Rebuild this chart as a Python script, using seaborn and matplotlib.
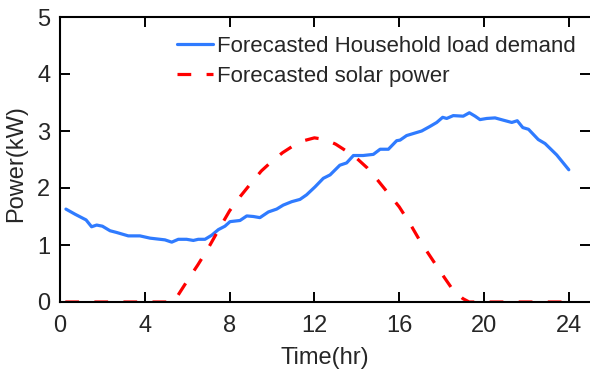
import matplotlib
matplotlib.use("Agg")
import matplotlib.pyplot as plt
import seaborn as sns
import pandas as pd

# Forecasted household load demand (kW)
load_time = [0.28, 0.71, 1.23, 1.49, 1.73, 2.0, 2.36, 2.67, 3.22, 3.77, 4.25, 4.72, 4.95,
             5.27, 5.58, 5.97, 6.29, 6.52, 6.84, 7.15, 7.47, 7.78, 8.02, 8.49, 8.81, 9.12,
             9.43, 9.83, 10.22, 10.53, 10.93, 11.32, 11.63, 12.03, 12.42, 12.74, 13.2,
             13.52, 13.84, 14.3, 14.78, 15.1, 15.49, 15.88, 16.04, 16.35, 17.06, 17.45,
             17.77, 18.05, 18.24, 18.55, 19.02, 19.31, 19.58, 19.81, 20.13, 20.52, 20.91,
             21.31, 21.57, 21.83, 22.1, 22.56, 22.88, 23.43, 24.0]
load_kw = [1.63, 1.54, 1.44, 1.32, 1.35, 1.33, 1.25, 1.22, 1.16, 1.16, 1.12, 1.10, 1.09,
           1.05, 1.10, 1.10, 1.08, 1.10, 1.10, 1.17, 1.27, 1.33, 1.41, 1.43, 1.51, 1.50,
           1.48, 1.58, 1.63, 1.70, 1.76, 1.80, 1.88, 2.02, 2.17, 2.23, 2.40,
           2.44, 2.57, 2.57, 2.59, 2.68, 2.68, 2.83, 2.84, 2.92, 3.00, 3.08,
           3.15, 3.24, 3.22, 3.27, 3.26, 3.32, 3.26, 3.20, 3.22, 3.23, 3.19,
           3.15, 3.18, 3.06, 3.03, 2.85, 2.78, 2.58, 2.32]

# Forecasted solar power (kW)
solar_time = [0.25, 1, 2, 3, 4, 5, 5.3, 5.5, 6, 6.5, 7, 7.5, 8, 8.5, 9, 9.5, 10, 10.5,
              11, 11.5, 12, 12.5, 13, 13.5, 14, 14.5, 15, 15.5, 16, 16.5, 17, 17.5,
              18, 18.5, 19, 19.3, 20, 21, 22, 23, 24]
solar_kw = [0, 0, 0, 0, 0, 0, 0, 0.08, 0.37, 0.65, 0.95, 1.28, 1.60, 1.85, 2.08, 2.30,
            2.47, 2.62, 2.74, 2.83, 2.88, 2.85, 2.77, 2.65, 2.52, 2.35, 2.13, 1.90,
            1.67, 1.38, 1.06, 0.78, 0.50, 0.23, 0.06, 0, 0, 0, 0, 0, 0]

x_ticks = [0, 4, 8, 12, 16, 20, 24]
y_ticks = [0, 1, 2, 3, 4, 5]

sns.set_theme(style="ticks")
plt.rcParams["font.family"] = ["Liberation Sans", "DejaVu Sans"]

fig = plt.figure(figsize=(5.9, 3.76), dpi=100)
ax = fig.add_axes([60 / 590, 1 - 302 / 376, 1 - 60 / 590, (302 - 17) / 376])

load_df = pd.DataFrame({"Time": load_time, "Power": load_kw})
solar_df = pd.DataFrame({"Time": solar_time, "Power": solar_kw})

sns.lineplot(data=load_df, x="Time", y="Power", ax=ax, color="#2F7BFF", lw=2.3,
             label="Forecasted Household load demand")
sns.lineplot(data=solar_df, x="Time", y="Power", ax=ax, color="#FF0000", lw=2.3,
             label="Forecasted solar power")
ax.lines[1].set_dashes([4.3, 4.8])

ax.set_xlim(0, 25)
ax.set_ylim(0, 5)
ax.set_xticks(x_ticks)
ax.set_yticks(y_ticks)
ax.set_xlabel("Time(hr)", fontsize=17)
ax.set_ylabel("Power(kW)", fontsize=17)
ax.xaxis.set_label_coords(0.5, -0.158)
ax.yaxis.set_label_coords(-0.062, 0.484)
ax.tick_params(direction="in", length=7, width=1.4, labelsize=17, color="black",
               top=True, right=True)
ax.tick_params(axis="x", pad=9)
ax.tick_params(axis="y", pad=7)
for side in ["left", "bottom", "top"]:
    ax.spines[side].set_linewidth(1.5)
    ax.spines[side].set_color("black")
ax.spines["right"].set_visible(False)

leg = ax.legend(loc="upper right", bbox_to_anchor=(1.009, 1.0), frameon=False,
                fontsize=16, handlelength=1.62, handletextpad=0.2,
                labelspacing=0.4, borderaxespad=0.45)

fig.savefig("out.png", dpi=100)
